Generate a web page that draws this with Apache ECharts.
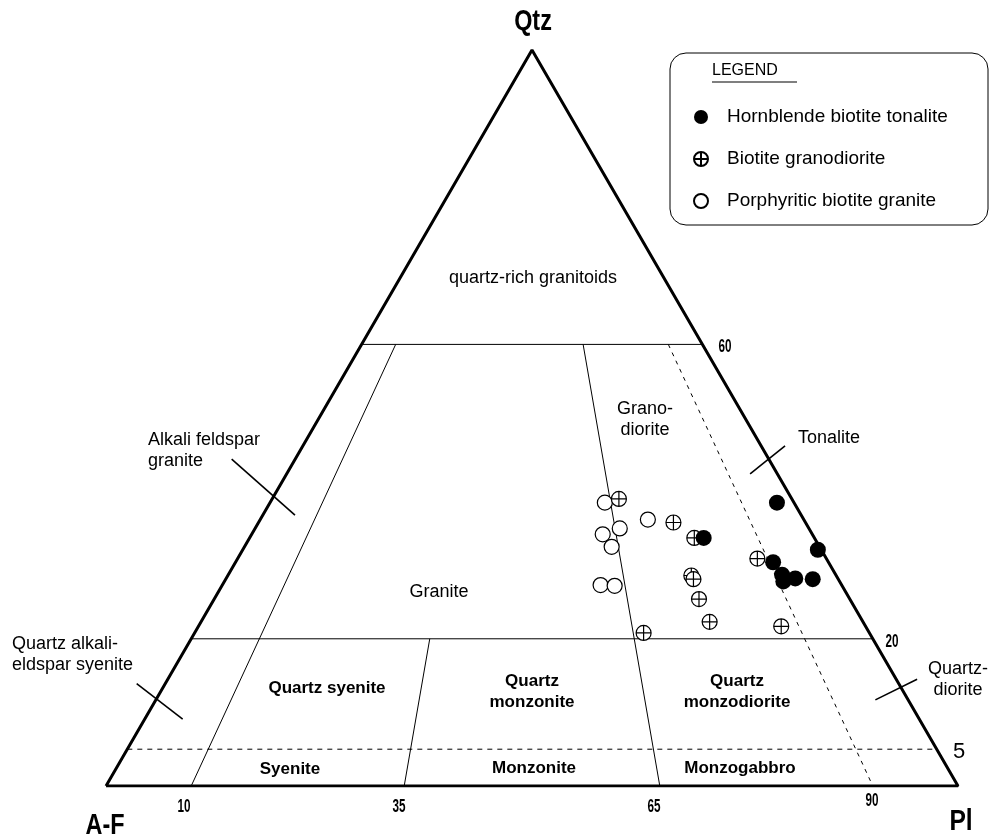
<!DOCTYPE html>
<html>
<head>
<meta charset="utf-8">
<script src="https://cdn.jsdelivr.net/npm/echarts@6/dist/echarts.min.js"></script>
<style>
html, body { margin: 0; padding: 0; background: #fff; }
#chart { width: 994px; height: 838px; }
</style>
</head>
<body>
<div id="chart"></div>
<script>
// QAP samples, each [Qtz, A-F, Pl] in %
var tonalite = [[33.7,13.0,53.3],[38.5,2.0,59.5],[32.1,0.4,67.5],[30.4,6.5,63.1],[28.7,6.3,65.0],[27.8,6.6,65.6],[28.2,5.0,66.8],[28.1,3.0,68.9]]
var granodiorite = [[39.0,20.3,40.7],[35.8,15.5,48.7],[33.7,14.1,52.2],[28.6,17.0,54.4],[28.1,17.0,54.9],[25.4,17.7,56.9],[22.3,18.0,59.7],[20.8,26.5,52.7],[30.9,8.1,61.0],[21.7,9.9,68.4]]
var granite = [[38.5,22.2,39.3],[36.2,18.3,45.5],[34.2,24.6,41.2],[35.0,22.2,42.8],[32.5,24.4,43.1],[27.3,28.3,44.4],[27.2,26.7,46.1]]

var seriesNames = ['Hornblende biotite tonalite','Biotite granodiorite','Porphyritic biotite granite']

// field boundaries
var solidQ = [60, 20]          // Qtz levels, full width
var dashedQ = [5]
var solidRatio = [10, 35, 65]  // 100*Pl/(A+Pl)
var solidRatioTop = [60, 20, 60]
var dashedRatio = [90]
var dashedRatioTop = [60]

// short marker lines at the labels, plot units [x, Qtz]
var pointers = [
	[[14.75,44.4],[22.18,36.8]],
	[[75.6,42.4],[79.7,46.2]],
	[[90.3,11.7],[95.2,14.5]],
	[[3.6,13.9],[9.0,9.1]]
]

var baseTicks = ['10','35','65','90']
var sideTicks = ['60','20']

function toXY(t){ //ternary -> plot
	var s = t[0]+t[1]+t[2]
	var q = t[0]/s*100, p = t[2]/s*100
	return [p + q/2, q]
}
function qLine(q){ return [toXY([q,100-q,0]), toXY([q,0,100-q])] }
function rLine(r, top){ return [toXY([top,(100-top)*(1-r/100),(100-top)*r/100]), toXY([0,100-r,r])] }

function seg(data, width, type){
	return { type:'line', data:data, symbol:'none', silent:true, animation:false,
		lineStyle:{ color:'#000', width:width, type:type||'solid' }, z:1 }
}

var series = []
series.push(seg([toXY([0,100,0]), toXY([0,0,100]), toXY([100,0,0]), toXY([0,100,0])], 3))
solidQ.forEach(function(q){ series.push(seg(qLine(q), 1)) })
dashedQ.forEach(function(q){ series.push(seg(qLine(q), 1, [5,5])) })
solidRatio.forEach(function(r,i){ series.push(seg(rLine(r, solidRatioTop[i]), 1)) })
dashedRatio.forEach(function(r,i){ series.push(seg(rLine(r, dashedRatioTop[i]), 1, [4,5])) })
pointers.forEach(function(p){ series.push(seg(p, 1.6)) })

var crossPath = 'path://M10,0A10,10,0,1,1,10,20A10,10,0,1,1,10,0ZM0,10L20,10M10,0L10,20'
series.push({ name:seriesNames[2], type:'scatter', data:granite.map(toXY), symbol:'circle', symbolSize:15,
	itemStyle:{ color:'#fff', borderColor:'#000', borderWidth:1.2, opacity:1 }, z:3 })
series.push({ name:seriesNames[1], type:'scatter', data:granodiorite.map(toXY), symbol:crossPath, symbolSize:15, symbolKeepAspect:true,
	itemStyle:{ color:'#fff', borderColor:'#000', borderWidth:1.2, opacity:1 }, z:4 })
series.push({ name:seriesNames[0], type:'scatter', data:tonalite.map(toXY), symbol:'circle', symbolSize:16,
	itemStyle:{ color:'#000', borderColor:'#000', borderWidth:0, opacity:1 }, z:5 })

var sans = '"Liberation Sans", Arial, sans-serif'
var reg = '18px ' + sans
var regB = 'bold 17px ' + sans
function txt(x, y, text, font, align, sx){
	return { type:'text', x:x, y:y, z:10, scaleX:sx||1, style:{ text:text, font:font, fill:'#000', align:align||'center', verticalAlign:'middle', lineHeight:21 } }
}

var graphics = [
	txt(533, 22, 'Qtz', 'bold 30px ' + sans, 'center', 0.78),
	txt(105, 826, 'A-F', 'bold 30px ' + sans, 'center', 0.78),
	txt(961, 822, 'Pl', 'bold 30px ' + sans, 'center', 0.82),
	txt(184, 807, baseTicks[0], 'bold 18px ' + sans, 'center', 0.65),
	txt(399, 807, baseTicks[1], 'bold 18px ' + sans, 'center', 0.65),
	txt(654, 807, baseTicks[2], 'bold 18px ' + sans, 'center', 0.65),
	txt(872, 801, baseTicks[3], 'bold 18px ' + sans, 'center', 0.65),
	txt(725, 347, sideTicks[0], 'bold 18px ' + sans, 'center', 0.65),
	txt(892, 642, sideTicks[1], 'bold 18px ' + sans, 'center', 0.65),
	txt(959, 752, '5', '22px ' + sans),
	txt(533, 278, 'quartz-rich granitoids', reg),
	txt(439, 592, 'Granite', reg),
	txt(645, 420, 'Grano-\ndiorite', reg),
	txt(829, 438, 'Tonalite', reg),
	txt(148, 451, 'Alkali feldspar\ngranite', reg, 'left'),
	txt(12, 655, 'Quartz alkali-\neldspar syenite', reg, 'left'),
	txt(958, 680, 'Quartz-\ndiorite', reg),
	txt(327, 688, 'Quartz syenite', regB),
	txt(532, 692, 'Quartz\nmonzonite', regB),
	txt(737, 692, 'Quartz\nmonzodiorite', regB),
	txt(290, 769, 'Syenite', regB),
	txt(534, 768, 'Monzonite', regB),
	txt(740, 768, 'Monzogabbro', regB),
	{ type:'rect', z:1, shape:{ x:670, y:53, width:318, height:172, r:16 }, style:{ fill:'#fff', stroke:'#000', lineWidth:1 } },
	txt(712, 71, 'LEGEND', '16px ' + sans, 'left'),
	{ type:'line', z:10, shape:{ x1:712, y1:82, x2:797, y2:82 }, style:{ stroke:'#000', lineWidth:1.2 } }
]

var option = {
	backgroundColor:'#fff',
	animation:false,
	grid:{ left:106, top:50, width:852, height:736 },
	xAxis:{ type:'value', min:0, max:100, show:false },
	yAxis:{ type:'value', min:0, max:100, show:false },
	legend:{
		data:seriesNames,
		orient:'vertical',
		left:688, top:101,
		itemWidth:14, itemHeight:14, itemGap:20,
		textStyle:{ fontFamily:sans, fontSize:19, color:'#000', lineHeight:22, padding:[0,0,0,14] },
		selectedMode:false,
		z:5
	},
	graphic:{ elements:graphics },
	series:series
}

var myChart = echarts.init(document.getElementById('chart'))
myChart.setOption(option)
</script>
</body>
</html>
